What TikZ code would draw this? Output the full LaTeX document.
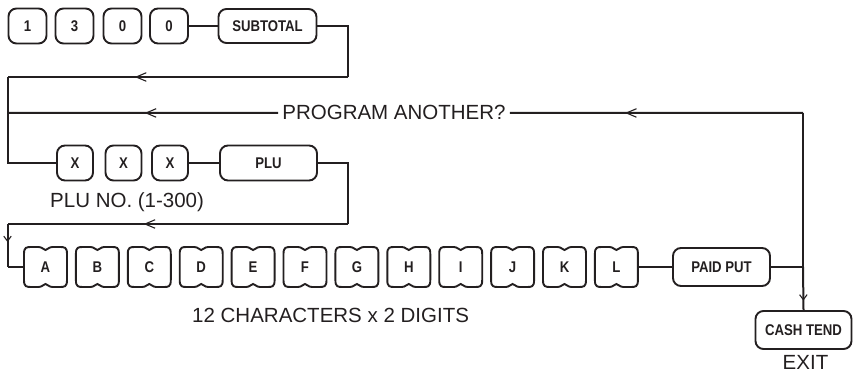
\documentclass[tikz,border=0pt]{standalone}
\usepackage{fontspec}
\setmainfont{Liberation Sans}
\newfontfamily\keyfont[FakeStretch=0.85]{Liberation Sans}
\usetikzlibrary{arrows.meta,decorations.markings}
\definecolor{ink}{HTML}{231F20}
\begin{document}
\begin{tikzpicture}[x=1pt,y=1pt,color=ink,
  conn/.style={line width=2pt},
  keybox/.style={draw,line width=1.9pt,rounded corners=8pt,inner sep=0pt,
    font=\keyfont\bfseries\fontsize{15.5}{15.5}\selectfont},
  lkey/.style={inner sep=0pt,minimum width=43pt,minimum height=40pt,
    font=\keyfont\bfseries\fontsize{15.5}{15.5}\selectfont},
  lbl/.style={font=\fontsize{20.5}{20.5}\selectfont,inner sep=0pt},
  bigarrow/.style={postaction={decorate},decoration={markings,
    mark=at position #1 with {\arrow{Straight Barb[length=10pt,width=8.5pt,line width=1.1pt]}}}},
  smallarrow/.style={postaction={decorate},decoration={markings,
    mark=at position #1 with {\arrow{Straight Barb[length=5pt,width=7.5pt,line width=1.1pt]}}}}
]
\useasboundingbox (0,0) rectangle (853,372);

% top row
\node[keybox,minimum width=38pt,minimum height=35pt] (t1) at (27.5,346) {1};
\node[keybox,minimum width=38pt,minimum height=35pt] (t2) at (74.5,346) {3};
\node[keybox,minimum width=38pt,minimum height=35pt] (t3) at (122.5,346) {0};
\node[keybox,minimum width=38pt,minimum height=35pt] (t4) at (169,346) {0};
\node[keybox,minimum width=98pt,minimum height=34pt] (sub) at (267.5,346) {SUBTOTAL};

% PLU row
\node[keybox,minimum width=36pt,minimum height=35pt] (x1) at (75,209) {X};
\node[keybox,minimum width=36pt,minimum height=35pt] (x2) at (123.5,209) {X};
\node[keybox,minimum width=36pt,minimum height=35pt] (x3) at (170,209) {X};
\node[keybox,minimum width=97pt,minimum height=35pt] (plu) at (268.5,209) {PLU};

% letter keys
\foreach \l [count=\i from 0] in {A,B,C,D,E,F,G,H,I,J,K,L}{
  \pgfmathsetmacro{\kx}{45.5+51.9*\i}
  \node[lkey] (k\l) at (\kx,105) {\l};
  \begin{scope}[shift={(k\l.center)}]
    \draw[line width=1.9pt] (-21.5,13) .. controls (-21.5,20) and (-19,20) .. (-14,20)
      -- (-7,20) .. controls (-3,20) and (-2,17) .. (0,17)
      .. controls (2,17) and (3,20) .. (7,20) -- (14,20)
      .. controls (19,20) and (21.5,20) .. (21.5,13) -- (21.5,-13)
      .. controls (21.5,-20) and (19,-20) .. (14,-20) -- (7,-20)
      .. controls (3,-20) and (2,-17) .. (0,-17)
      .. controls (-2,-17) and (-3,-20) .. (-7,-20) -- (-14,-20)
      .. controls (-19,-20) and (-21.5,-20) .. (-21.5,-13) -- cycle;
  \end{scope}
}

\node[keybox,minimum width=97pt,minimum height=38pt] (paid) at (721.5,105) {PAID PUT};
\node[keybox,minimum width=96pt,minimum height=38pt] (cash) at (803.5,42) {CASH TEND};

% labels
\node[lbl,inner xsep=4pt,anchor=base] (prog) at (394,252) {PROGRAM ANOTHER?};
\node[lbl,anchor=base west] (pluno) at (50,164) {PLU NO. (1-300)};
\node[lbl,anchor=base west] (chars) at (192,50) {12 CHARACTERS x 2 DIGITS};
\node[lbl,anchor=base] (exit) at (805.5,3) {EXIT};

% coordinates
\coordinate (sr) at (348,346);
\coordinate (sd) at (348,295);
\coordinate (sl) at (7.5,295);
\coordinate (pl) at (7.5,259);
\coordinate (xl) at (7.5,209);
\coordinate (pr) at (348,209);
\coordinate (pd) at (348,148);
\coordinate (pll) at (7.5,148);
\coordinate (al) at (7.5,105);
\coordinate (rt) at (803,259);
\coordinate (rj) at (803,105);

% connectors
\draw[conn] (t4.east) -- (sub.west);
\draw[conn] (sub.east) -- (sr) -- (sd);
\draw[conn,bigarrow=0.626] (sd) -- (sl);
\draw[conn] (sl) -- (xl) -- (x1.west);
\draw[conn] (x3.east) -- (plu.west);
\draw[conn] (plu.east) -- (pr) -- (pd);
\draw[conn,bigarrow=0.60] (pd) -- (pll);
\draw[conn,smallarrow=0.42] (pll) -- (al);
\draw[conn] (al) -- (kA.west);
\draw[conn] (kL.east) -- (paid.west);
\draw[conn] (paid.east) -- (rj);
\draw[conn] (rj) -- (rt);
\draw[conn,bigarrow=0.607] (rt) -- (prog.east);
\draw[conn,bigarrow=0.493] (prog.west) -- (pl);
\draw[conn,smallarrow=0.78] (rj) -- (cash.north);
\end{tikzpicture}
\end{document}
